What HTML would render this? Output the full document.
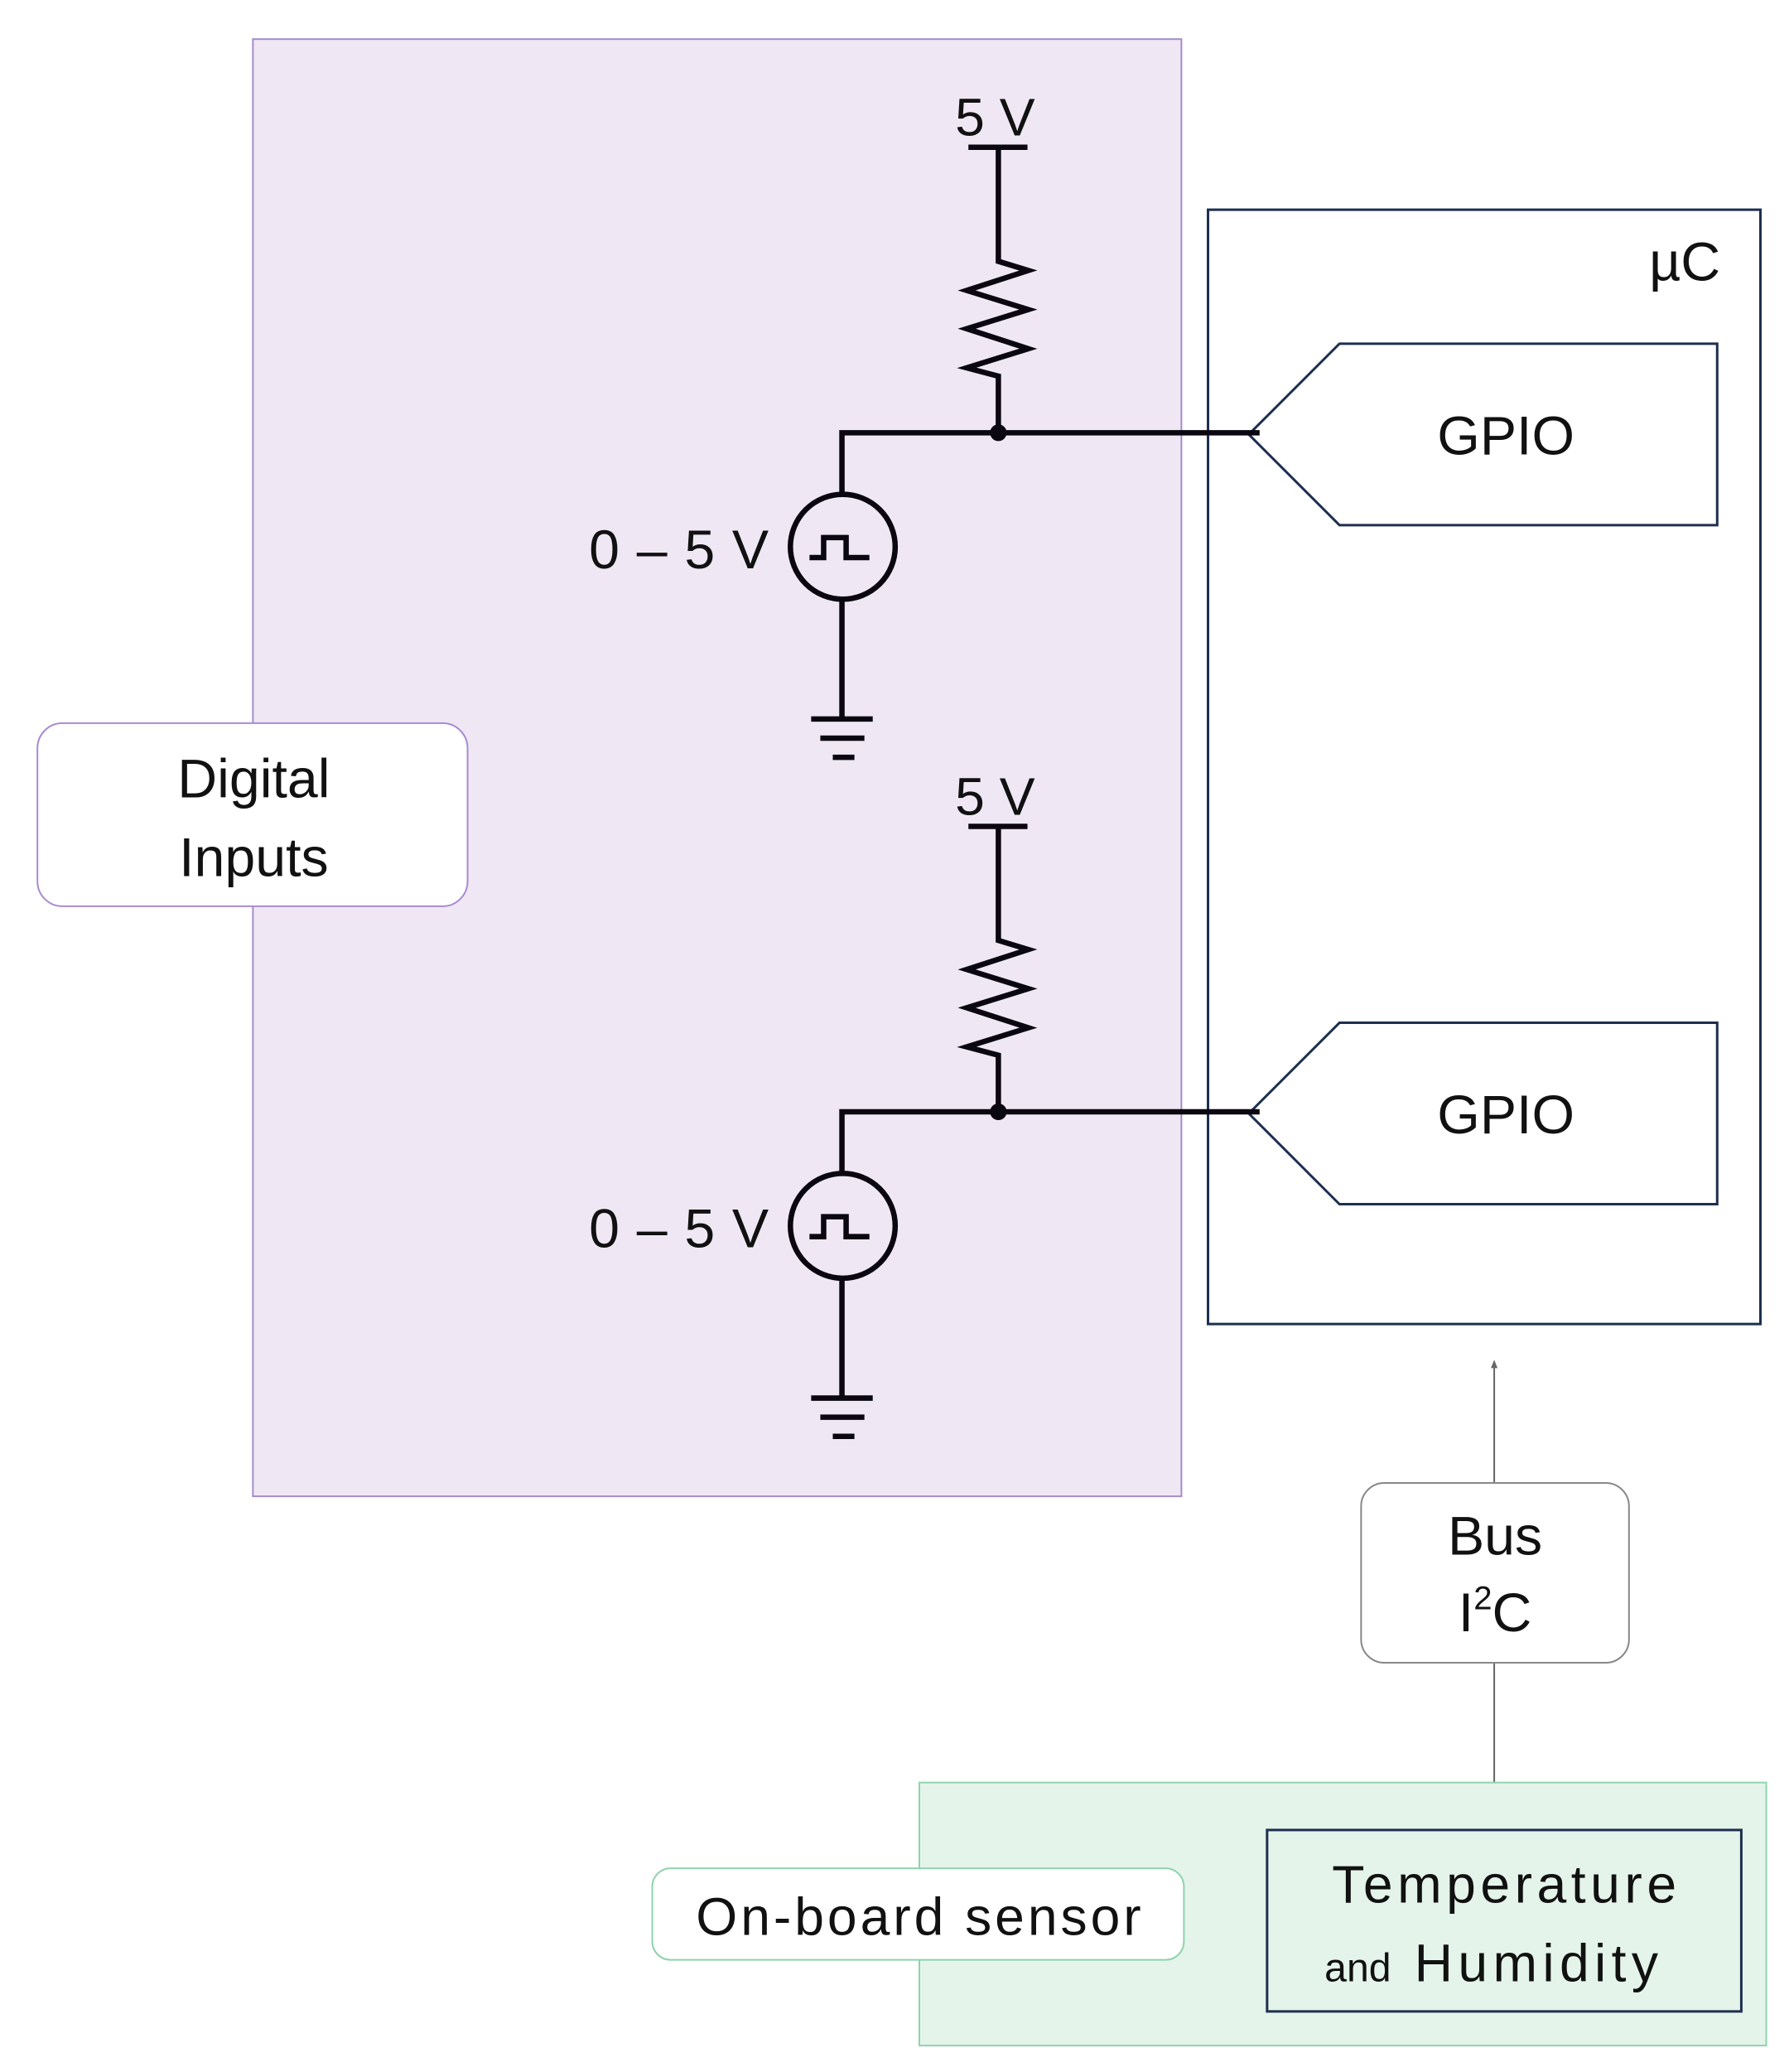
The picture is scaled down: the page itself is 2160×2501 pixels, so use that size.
<!DOCTYPE html>
<html><head><meta charset="utf-8"><style>html,body{margin:0;padding:0;background:#fff}svg{display:block}</style></head>
<body>
<svg width="2160" height="2501" viewBox="0 0 2160 2501" xmlns="http://www.w3.org/2000/svg" font-family="Liberation Sans, sans-serif">
<g transform="scale(1.0045)">
<rect x="304" y="47" width="1116" height="1751" fill="#efe8f4" stroke="#a58cc9" stroke-width="2"/>
<rect x="45" y="869" width="517" height="220" rx="30" fill="#fff" stroke="#a98bd0" stroke-width="2"/>
<text x="305" y="958" font-size="66" text-anchor="middle" fill="#111">Digital</text>
<text x="305" y="1053" font-size="66" text-anchor="middle" fill="#111">Inputs</text>

<rect x="1452" y="252" width="664" height="1339" fill="#fff" stroke="#1e2f4f" stroke-width="3"/>
<text x="2025" y="337" font-size="66" text-anchor="middle" fill="#111">µC</text>

<g fill="none" stroke="#1e2f4f" stroke-width="3">
<polygon points="1501,522 1610,413 2064,413 2064,631 1610,631"/>
<polygon points="1501,1338 1610,1229 2064,1229 2064,1447 1610,1447"/>
</g>
<text x="1810" y="546" font-size="66" text-anchor="middle" fill="#111">GPIO</text>
<text x="1810" y="1362" font-size="66" text-anchor="middle" fill="#111">GPIO</text>

<g transform="translate(-5,-3)">
<g id="c1">
<text x="1201" y="166" font-size="64" text-anchor="middle" fill="#111" textLength="96">5 V</text>
<g stroke="#0b0710" stroke-width="6.5" fill="none">
<line x1="1169" y1="180" x2="1240" y2="180"/>
<polyline points="1205,180 1205,317 1241,328 1167,352 1241,375 1167,398 1241,422 1167,445 1205,455 1205,523"/>
<polyline points="1017,596 1017,523 1519,523"/>
<circle cx="1018" cy="660" r="63"/>
<polyline points="978,673 995,673 995,649 1022,649 1022,673 1050,673"/>
<line x1="1017" y1="724" x2="1017" y2="867"/>
<line x1="980" y1="867" x2="1054" y2="867"/>
<line x1="991" y1="890" x2="1044" y2="890"/>
<line x1="1006" y1="913" x2="1032" y2="913"/>
</g>
<circle cx="1205" cy="523" r="10" fill="#0b0710"/>
<text x="929" y="686" font-size="66" text-anchor="end" fill="#111" textLength="216">0 – 5 V</text>
</g>
<use href="#c1" transform="translate(0,816)"/>
</g>

<line x1="1796" y1="1640" x2="1796" y2="1782" stroke="#666" stroke-width="2"/>
<polygon points="1796,1634 1792,1644 1800,1644" fill="#666"/>
<line x1="1796" y1="1998" x2="1796" y2="2160" stroke="#666" stroke-width="2"/>
<rect x="1636" y="1782" width="322" height="216" rx="28" fill="#fff" stroke="#888" stroke-width="2"/>
<text x="1797" y="1868" font-size="66" text-anchor="middle" fill="#111">Bus</text>
<text x="1797" y="1960" font-size="66" text-anchor="middle" fill="#111">I<tspan font-size="40" dy="-26">2</tspan><tspan dy="26">C</tspan></text>

<rect x="1105" y="2142" width="1018" height="316" fill="#e4f4ea" stroke="#8fd4ae" stroke-width="2"/>
<rect x="784" y="2245" width="639" height="110" rx="22" fill="#fff" stroke="#8fd4ae" stroke-width="2"/>
<text x="1104" y="2325" font-size="64" text-anchor="middle" fill="#111" textLength="535">On-board sensor</text>
<rect x="1523" y="2199" width="570" height="218" fill="none" stroke="#1e2f4f" stroke-width="3"/>
<text x="1808" y="2286" font-size="64" text-anchor="middle" fill="#111" textLength="414">Temperature</text>
<text x="1592" y="2381" font-size="48" fill="#111">and</text>
<text x="1700" y="2381" font-size="64" fill="#111" textLength="293">Humidity</text>
</g>
</svg>
</body></html>
